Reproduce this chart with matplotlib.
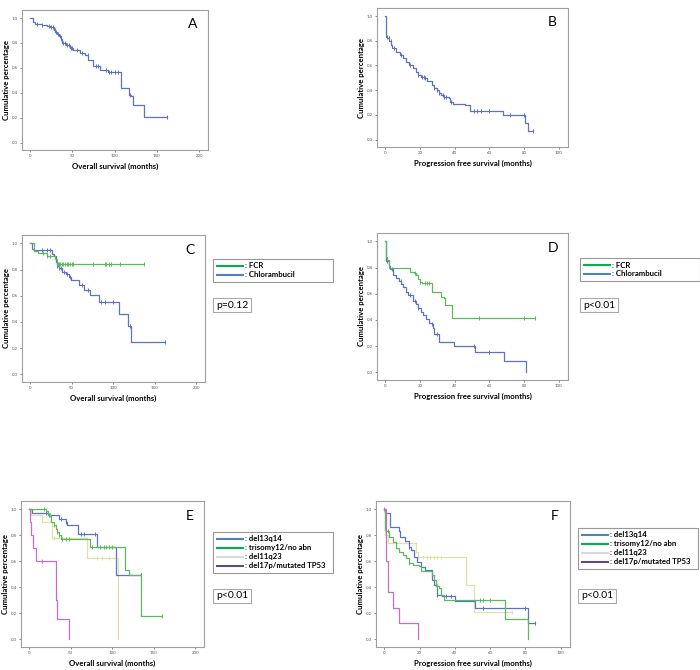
import numpy as np
import matplotlib
matplotlib.use('Agg')
import matplotlib.pyplot as plt
from matplotlib.lines import Line2D

plt.rcParams['font.family'] = ['Lato', 'DejaVu Sans']

# ---- A: overall survival, all patients
a_t = [0, 4, 6, 14, 20, 24, 28, 30, 32, 34, 36, 38, 43, 47, 51, 59, 65, 69, 74, 83, 92, 107, 108, 117, 120, 122, 135]
a_s = [1.0, 0.97, 0.955, 0.945, 0.935, 0.925, 0.905, 0.89, 0.875, 0.855, 0.83, 0.80, 0.78, 0.76, 0.74, 0.72,
       0.705, 0.665, 0.617, 0.584, 0.566, 0.504, 0.44, 0.383, 0.37, 0.303, 0.204]
a_end = 162
a_cens = [8, 14, 22, 25, 27, 29, 31, 33, 35, 37, 39, 41, 44, 46, 48, 50, 55, 62, 68, 78, 80, 90, 93, 96, 100, 104, 118, 162]

# ---- B: progression free survival, all patients
b_t = [0, 0.3, 0.6, 1.2, 2.1, 3.1, 4, 6, 8.3, 10.3, 12.2, 13.8, 15.7, 17.7, 19, 20.4, 22.9, 24.3, 26.8, 27.8,
       29.7, 30.7, 32, 33.6, 36.5, 37.5, 39, 46, 49, 67.6, 68, 80.6, 82.5]
b_s = [1.0, 0.86, 0.83, 0.82, 0.80, 0.765, 0.74, 0.71, 0.684, 0.657, 0.63, 0.603, 0.576, 0.55, 0.523, 0.504,
       0.496, 0.475, 0.442, 0.416, 0.402, 0.381, 0.362, 0.343, 0.335, 0.308, 0.287, 0.276, 0.233, 0.22, 0.196,
       0.134, 0.067]
b_end = 85
b_cens = [1, 2, 3, 5, 9, 14, 19, 21, 22, 23, 28, 30, 31, 33, 34, 35, 38, 51, 53, 55, 60, 72, 80, 85]

# ---- C: OS by treatment
cg_t = [0, 4.5, 10, 20, 30, 32]
cg_s = [1.0, 0.94, 0.925, 0.905, 0.88, 0.84]
cg_end = 137
cg_cens = [16, 20, 24, 33, 34, 35, 36, 38, 40, 42, 44, 46, 48, 50, 52, 76, 90, 92, 95, 98, 108, 137]
cb_t = [0, 2.4, 5.2, 27, 29, 31, 33, 35, 39, 43, 47, 49.4, 59, 65.5, 72, 83.5, 107, 117.7, 121]
cb_s = [1.0, 0.96, 0.95, 0.923, 0.903, 0.86, 0.827, 0.81, 0.783, 0.763, 0.74, 0.72, 0.68, 0.643, 0.605,
        0.554, 0.464, 0.367, 0.247]
cb_end = 162
cb_cens = [14, 20, 24, 33, 35, 37, 41, 45, 48, 62, 70, 86, 90, 100, 120, 162]

# ---- D: PFS by treatment
dg_t = [0, 0.1, 1, 1.9, 14.5, 16.8, 17.8, 18.7, 20, 21, 27, 31.8, 33.6, 34.2, 38.3]
dg_s = [1.0, 0.88, 0.855, 0.796, 0.77, 0.758, 0.74, 0.714, 0.69, 0.68, 0.617, 0.574, 0.57, 0.515, 0.413]
dg_end = 86
dg_cens = [17, 20, 23, 24, 25, 54, 80, 86]
db_t = [0, 0.1, 0.6, 1.9, 2.8, 4.3, 6.2, 8, 9.3, 10.3, 11.8, 13, 15.9, 17.8, 18.7, 20.6, 21.9, 23.7, 25.2,
        26.7, 27.5, 28, 30.8, 39.8, 51.4, 68.2, 81.3]
db_s = [1.0, 0.88, 0.847, 0.816, 0.79, 0.745, 0.72, 0.70, 0.676, 0.65, 0.617, 0.59, 0.548, 0.523, 0.49,
        0.464, 0.44, 0.408, 0.378, 0.367, 0.337, 0.29, 0.23, 0.199, 0.158, 0.082, 0.0]
db_end = 81.3
db_cens = [1, 2, 4, 9, 14, 17, 19, 27, 30, 51, 60]

# ---- E: OS by cytogenetics
eb_t = [0, 4, 23, 36, 44, 46, 59, 82, 105]
eb_s = [1.0, 0.975, 0.955, 0.93, 0.905, 0.878, 0.814, 0.712, 0.496]
eb_end = 135
eb_cens = [20, 24, 38, 45, 62, 66, 80, 135]
eg_t = [0, 20, 23, 26, 30, 32, 34, 36, 38, 74, 116, 120, 135.2]
eg_s = [1.0, 0.985, 0.954, 0.903, 0.878, 0.852, 0.827, 0.80, 0.776, 0.712, 0.534, 0.496, 0.178]
eg_end = 160
eg_cens = [18, 25, 30, 34, 36, 40, 44, 48, 76, 86, 90, 93, 96, 100, 160]
ey_t = [0, 2, 16, 28, 70, 107]
ey_s = [1.0, 0.954, 0.903, 0.78, 0.628, 0.0]
ey_end = 107
ey_cens = [30, 82, 88, 96]
ep_t = [0, 1, 2, 5, 8, 32, 34, 48]
ep_s = [1.0, 0.903, 0.80, 0.705, 0.603, 0.305, 0.153, 0.0]
ep_end = 48
ep_cens = [16]

# ---- F: PFS by cytogenetics
fb_t = [0, 0.3, 3.2, 8.4, 9, 11.8, 14, 15, 16.8, 18.7, 20.6, 23, 27, 28, 30, 32.7, 39.8, 51.4, 81.3]
fb_s = [1.0, 0.97, 0.867, 0.83, 0.79, 0.758, 0.714, 0.69, 0.633, 0.594, 0.556, 0.536, 0.46, 0.42, 0.337,
        0.332, 0.293, 0.242, 0.122]
fb_end = 85.6
fb_cens = [1, 14, 30, 35, 38, 56, 80, 85.6]
fg_t = [0, 0.1, 1, 2.8, 4.7, 6.5, 8.4, 10.3, 12, 14, 16, 19.6, 20.6, 26.7, 28, 29, 30.8, 31.8, 33.6, 68.2, 81.3]
fg_s = [1.0, 0.84, 0.83, 0.79, 0.75, 0.70, 0.675, 0.65, 0.625, 0.587, 0.574, 0.566, 0.523, 0.497, 0.46,
        0.408, 0.395, 0.344, 0.306, 0.153, 0.0]
fg_end = 81.3
fg_cens = [2, 14, 30, 54, 56, 60]
fy_t = [0, 0.3, 2, 18, 19, 46, 51]
fy_s = [1.0, 0.80, 0.74, 0.675, 0.633, 0.42, 0.209]
fy_end = 72.5
fy_cens = [19, 22, 24, 26, 28, 30, 32, 72.5]
fp_t = [0, 0.6, 1.9, 5, 8.4, 19.3]
fp_s = [1.0, 0.60, 0.362, 0.242, 0.122, 0.0]
fp_end = 19.3
fp_cens = [0]

treat_labels = [': FCR', ': Chlorambucil']
cyto_labels = [': del13q14', ': trisomy12/no abn', ': del11q23', ': del17p/mutated TP53']

# colours on the curves and in the legend boxes
BLUE, GREEN, YELLOW, PURPLE = '#5a74c2', '#5cba5c', '#e3dfa6', '#c56ec9'
LEG_BLUE, LEG_GREEN, LEG_GRAY, LEG_PURPLE = '#4f81bd', '#00b050', '#d9d9d9', '#604a7b'


def km(ax, t, s, end, cens, color):
    tt = list(t) + [end]
    ss = list(s) + [s[-1]]
    ax.step(tt, ss, where='post', color=color, lw=0.9)
    idx = np.searchsorted(t, cens, side='right') - 1
    ax.plot(cens, np.array(s)[idx], ls='none', marker='|', ms=3, mew=0.7, color=color)


def style(ax, xmax, xlabel, letter, width_px):
    step = 50 if xmax == 200 else 20
    pad = xmax * 0.048
    ax.set_xlim(-pad, xmax + pad * 1.1)
    ax.set_ylim(-0.06, 1.065)
    ax.set_xticks(np.arange(0, xmax + 1, step))
    ax.set_yticks(np.arange(0, 1.01, 0.2))
    ax.set_yticklabels([f'{v:.1f}' for v in np.arange(0, 1.01, 0.2)])
    ax.tick_params(labelsize=3.2, length=1.5, width=0.5, colors='#555555', pad=1.5)
    for sp in ax.spines.values():
        sp.set_color('#a0a0a0')
        sp.set_linewidth(0.8)
    ax.set_xlabel(xlabel, fontsize=5.6, fontweight='bold', labelpad=3.5)
    ax.set_ylabel('Cumulative percentage', fontsize=5.6, fontweight='bold')
    # put the y label close to the left edge of each panel
    ax.yaxis.set_label_coords(-12 / width_px, 0.5)
    ax.text(0.92, 0.9, letter, transform=ax.transAxes, fontsize=10, ha='center', va='center')


def legend_box(fig, x, y, h, labels, colors):
    handles = [Line2D([], [], color=c, lw=1.5) for c in colors]
    leg = fig.legend(handles, labels, loc='upper left', mode='expand',
                     bbox_to_anchor=(x / 700, 1 - (y + h) / 670, 120 / 700, h / 670),
                     prop={'size': 5.6, 'weight': 'bold'}, fancybox=False, edgecolor='#999999',
                     framealpha=1, handlelength=3.4, handletextpad=0.3, labelspacing=0.25,
                     borderpad=0.45, borderaxespad=0)
    leg.get_frame().set_linewidth(0.8)


def p_box(fig, x, y, txt):
    fig.text((x + 3) / 700, 1 - y / 670, txt, fontsize=7.5, ha='left', va='center',
             bbox=dict(boxstyle='square,pad=0.25', fc='white', ec='#aaaaaa', lw=0.8))


fig = plt.figure(figsize=(7, 6.7), dpi=100)

axA = fig.add_axes([22 / 700, 1 - 150 / 670, 186 / 700, 140 / 670])
km(axA, a_t, a_s, a_end, a_cens, BLUE)
style(axA, 200, 'Overall survival (months)', 'A', 186)

axB = fig.add_axes([377 / 700, 1 - 147 / 670, 191 / 700, 139 / 670])
km(axB, b_t, b_s, b_end, b_cens, BLUE)
style(axB, 100, 'Progression free survival (months)', 'B', 191)

axC = fig.add_axes([22 / 700, 1 - 382 / 670, 183 / 700, 147 / 670])
km(axC, cb_t, cb_s, cb_end, cb_cens, BLUE)
km(axC, cg_t, cg_s, cg_end, cg_cens, GREEN)
style(axC, 200, 'Overall survival (months)', 'C', 183)
legend_box(fig, 213, 259, 24, treat_labels, [LEG_GREEN, LEG_BLUE])
p_box(fig, 213, 305, 'p=0.12')

axD = fig.add_axes([377 / 700, 1 - 380 / 670, 191 / 700, 147 / 670])
km(axD, db_t, db_s, db_end, db_cens, BLUE)
km(axD, dg_t, dg_s, dg_end, dg_cens, GREEN)
style(axD, 100, 'Progression free survival (months)', 'D', 191)
legend_box(fig, 580, 258, 24, treat_labels, [LEG_GREEN, LEG_BLUE])
p_box(fig, 580, 305, 'p<0.01')

axE = fig.add_axes([21 / 700, 1 - 647 / 670, 183 / 700, 146 / 670])
km(axE, ey_t, ey_s, ey_end, ey_cens, YELLOW)
km(axE, eb_t, eb_s, eb_end, eb_cens, BLUE)
km(axE, eg_t, eg_s, eg_end, eg_cens, GREEN)
km(axE, ep_t, ep_s, ep_end, ep_cens, PURPLE)
style(axE, 200, 'Overall survival (months)', 'E', 183)
legend_box(fig, 213, 532, 45, cyto_labels, [LEG_BLUE, LEG_GREEN, LEG_GRAY, LEG_PURPLE])
p_box(fig, 213, 596, 'p<0.01')

axF = fig.add_axes([376 / 700, 1 - 647 / 670, 194 / 700, 146 / 670])
km(axF, fy_t, fy_s, fy_end, fy_cens, YELLOW)
km(axF, fb_t, fb_s, fb_end, fb_cens, BLUE)
km(axF, fg_t, fg_s, fg_end, fg_cens, GREEN)
km(axF, fp_t, fp_s, fp_end, fp_cens, PURPLE)
style(axF, 100, 'Progression free survival (months)', 'F', 194)
legend_box(fig, 578, 528, 45, cyto_labels, [LEG_BLUE, LEG_GREEN, LEG_GRAY, LEG_PURPLE])
p_box(fig, 578, 596, 'p<0.01')

fig.savefig('out.png', dpi=100)
